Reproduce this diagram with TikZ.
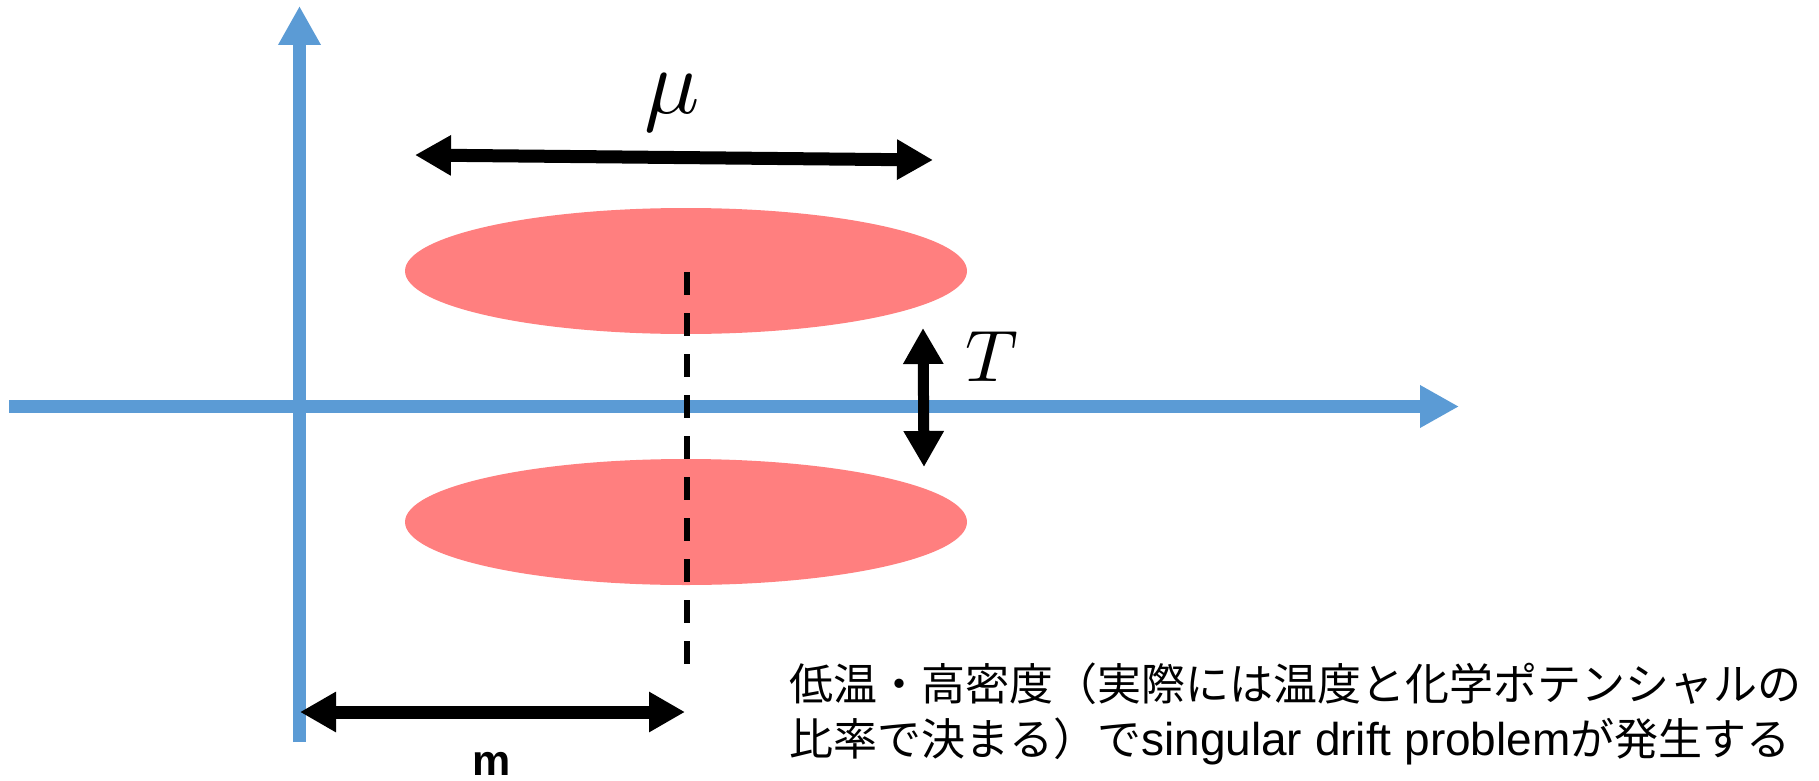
\documentclass[tikz,border=0pt]{standalone}
\usepackage{fontspec}
\newfontfamily\cjk{Noto Sans CJK JP}
\newfontfamily\arial{Liberation Sans}
\usetikzlibrary{arrows.meta,shapes.geometric}
\definecolor{axisblue}{RGB}{91,155,213}
\definecolor{blobred}{RGB}{255,127,127}
\tikzset{
  axis/.style={draw=axisblue, line width=13pt, -{Triangle[length=39pt,width=40pt]}},
  dimarrow/.style={draw=black, line width=12pt, {Triangle[length=36pt,width=38pt]}-{Triangle[length=36pt,width=38pt]}},
  blob/.style={ellipse, fill=blobred, draw=none, minimum width=562pt, minimum height=126pt, inner sep=0pt},
  dashline/.style={draw=black, line width=6pt, dash pattern=on 23pt off 18pt},
  jtext/.style={anchor=base west, inner sep=0pt, font=\cjk\fontsize{44}{55}\selectfont}
}
\begin{document}
\begin{tikzpicture}[x=1pt, y=-1pt]
\useasboundingbox (0,0) rectangle (1819,781);
% ellipses
\node[blob] (top) at (686,271) {};
\node[blob] (bot) at (686,522) {};
% axes
\coordinate (vbot) at (299.5,742);
\coordinate (vtop) at (299.5,6);
\coordinate (hleft) at (9,406.5);
\coordinate (hright) at (1459,406.5);
\draw[axis] (hleft) -- (hright);
\draw[axis] (vbot) -- (vtop);
% dashed line
\coordinate (d1) at (687,272);
\coordinate (d2) at (687,680);
\draw[dashline] (d1) -- (d2);
% mu arrow
\coordinate (mul) at (415,155);
\coordinate (mur) at (933,160);
\draw[dimarrow, line width=13pt] (mul) -- (mur);
\node[inner sep=0pt] (mu) at (672,103) {\scalebox{9.2}{$\mu$}};
% T arrow
\coordinate (tt) at (923,328);
\coordinate (tb) at (924,467);
\draw[dimarrow, line width=11pt] (tt) -- (tb);
\node[inner sep=0pt] (T) at (992,357) {\scalebox{7.3}{$T$}};
% m arrow
\coordinate (ml) at (300,712);
\coordinate (mr) at (685,712);
\draw[dimarrow, line width=13pt] (ml) -- (mr);
\node[anchor=base, inner sep=0pt, font=\arial\bfseries\fontsize{43}{43}\selectfont] (m) at (492,775) {m};
% text
\node[jtext] (l1) at (789,700) {低温・高密度（実際には温度と化学ポテンシャルの};
\node[jtext] (l2) at (789,755) {比率で決まる）で{\arial\fontsize{46}{55}\selectfont singular drift problem}が発生する};
\end{tikzpicture}
\end{document}
